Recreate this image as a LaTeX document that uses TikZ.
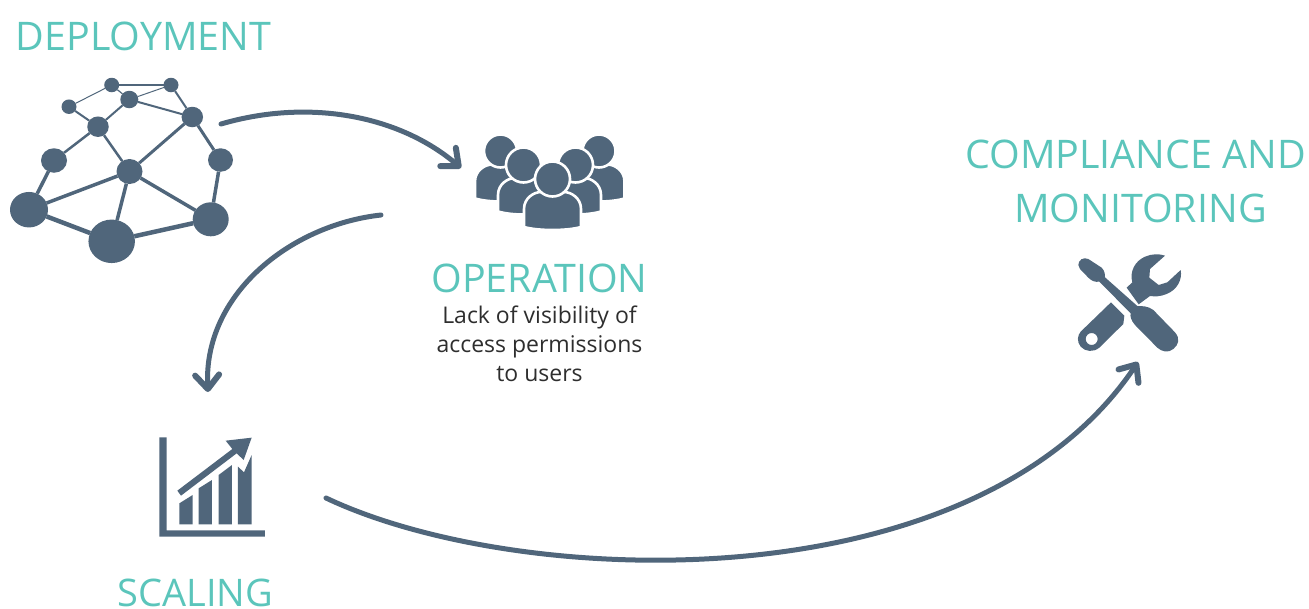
\documentclass[tikz,border=0pt]{standalone}
\usepackage{fontspec}
\setmainfont{Open Sans}
\usetikzlibrary{arrows.meta,shapes.geometric}
\definecolor{slate}{HTML}{50667B}
\definecolor{teal2}{HTML}{5BC5BB}
\definecolor{ink}{HTML}{2E2E2E}
\tikzset{
  net/.style={ellipse,fill=slate,inner sep=0pt,outer sep=0pt},
  link/.style={draw=slate,line width=#1},
  flow/.style={draw=slate,line width=5pt,line cap=round,-{Straight Barb[length=14pt,width=24pt,line width=6pt,round]}},
  title/.style={text=teal2,font=\fontsize{39.4}{44}\selectfont,anchor=base,inner sep=0pt,align=center},
  body/.style={text=ink,font=\fontsize{23}{29}\selectfont,anchor=base,inner sep=0pt,align=center},
  solid slate/.style={fill=slate,draw=none},
  person/.style={fill=slate,draw=white,line width=2.6pt}
}
\newcommand{\oneperson}[6]{% cx, head cy, head r, half width, body top, body bottom
  \path[person] (#1-#4,#6-3) -- (#1-#4,#5+17)
    .. controls (#1-#4,#5+6) and (#1-#4+10,#5) .. (#1-#4+17,#5)
    -- (#1+#4-17,#5)
    .. controls (#1+#4-10,#5) and (#1+#4,#5+6) .. (#1+#4,#5+17)
    -- (#1+#4,#6-3)
    .. controls (#1+#4-14,#6+1) and (#1-#4+14,#6+1) .. (#1-#4,#6-3) -- cycle;
  \path[person] (#1,#2) circle (#3);
}
\begin{document}
\begin{tikzpicture}[x=1pt,y=-1pt]
\useasboundingbox (0,0) rectangle (1309,608);

% titles
\node[title] (tdep) at (143.5,50) {DEPLOYMENT};
\node[title] (top) at (539.5,292) {OPERATION};
\node[title,font=\fontsize{38}{44}\selectfont] (tsc) at (195.5,606) {SCALING};
\node[title] (tcm1) at (1135.5,168) {COMPLIANCE AND};
\node[title] (tcm2) at (1140.5,222) {MONITORING};
\node[body] (l1) at (539.5,323) {Lack of visibility of};
\node[body] (l2) at (539.5,352) {access permissions};
\node[body] (l3) at (539.5,381) {to users};

% network
\node[net,minimum width=15pt,minimum height=14.5pt] (n1) at (111.7,85) {};
\node[net,minimum width=15pt,minimum height=14.5pt] (n2) at (171,85) {};
\node[net,minimum width=18pt,minimum height=17.5pt] (n3) at (129.3,99.5) {};
\node[net,minimum width=15pt,minimum height=14.5pt] (n4) at (69,106.7) {};
\node[net,minimum width=21.5pt,minimum height=20.5pt] (n5) at (192.3,117) {};
\node[net,minimum width=21.5pt,minimum height=20.5pt] (n6) at (98,126.7) {};
\node[net,minimum width=26pt,minimum height=24.5pt] (n7) at (54,160.5) {};
\node[net,minimum width=25pt,minimum height=23.5pt] (n8) at (220.5,160) {};
\node[net,minimum width=26pt,minimum height=25pt] (n9) at (129.5,171.5) {};
\node[net,minimum width=38pt,minimum height=35.5pt] (n10) at (29,209.7) {};
\node[net,minimum width=46.5pt,minimum height=43.5pt] (n11) at (111.7,241.3) {};
\node[net,minimum width=36pt,minimum height=34pt] (n12) at (210.7,219.3) {};
\draw[link=1.2pt] (n1)--(n2);
\draw[link=1pt] (n1)--(n4);
\draw[link=1.2pt] (n1)--(n3);
\draw[link=1pt] (n3)--(n2);
\draw[link=2pt] (n3)--(n5);
\draw[link=2pt] (n2)--(n5);
\draw[link=2pt] (n4)--(n6);
\draw[link=2pt] (n3)--(n6);
\draw[link=2.5pt] (n6)--(n7);
\draw[link=2.5pt] (n6)--(n9);
\draw[link=3pt] (n5)--(n9);
\draw[link=3pt] (n5)--(n8);
\draw[link=3.5pt] (n7)--(n10);
\draw[link=3.5pt] (n8)--(n12);
\draw[link=3.5pt] (n9)--(n10);
\draw[link=3.5pt] (n9)--(n11);
\draw[link=3.5pt] (n9)--(n12);
\draw[link=4.5pt] (n10)--(n11);
\draw[link=4.5pt] (n11)--(n12);

% people
\oneperson{500.5}{151}{16.5}{25.5}{164.5}{201.5}
\oneperson{599}{151}{16.5}{25.5}{164.5}{201.5}
\oneperson{523.5}{165}{17.5}{25.5}{178}{214.5}
\oneperson{575.5}{165}{17.5}{25.5}{178}{214.5}
\oneperson{552.5}{179}{17.5}{28.5}{192}{230}

% tools
\begin{scope}[shift={(1060,245)},x=0.3333pt,y=-0.3333pt]
 % screwdriver
 \path[solid slate] (55,60) .. controls (55,45) and (70,35) .. (85,42)
   -- (125,68) .. controls (135,78) and (135,90) .. (135,97)
   -- (232,183)
   .. controls (245,183) and (265,183) .. (280,195)
   -- (345,262) .. controls (362,282) and (355,300) .. (340,312)
   .. controls (325,325) and (305,320) .. (292,308)
   -- (225,240) .. controls (212,225) and (210,212) .. (212,205)
   -- (118,110) .. controls (105,112) and (95,108) .. (85,98)
   -- (60,72) -- cycle;
 % wrench handle
 \path[solid slate,even odd rule] (153,172) -- (193,212) -- (190,237) -- (118,308)
   .. controls (100,323) and (75,320) .. (62,305)
   .. controls (50,290) and (52,272) .. (62,260) -- cycle
   (95,282) circle (18);
 % wrench head
 \path[solid slate] (200,128) -- (217,112)
   .. controls (208,80) and (225,48) .. (255,35)
   .. controls (275,26) and (300,26) .. (315,32)
   -- (270,72) -- (268,98) -- (296,120) -- (322,112) -- (362,75)
   .. controls (368,105) and (350,135) .. (320,147)
   .. controls (300,155) and (285,155) .. (270,153)
   -- (236,178) -- cycle;
\end{scope}

% chart
\begin{scope}[shift={(145,425)},x=0.3333pt,y=-0.3333pt]
 \path[solid slate] (43,37) -- (65,37) -- (65,316) -- (360,316) -- (360,335) -- (43,335) -- cycle;
 \path[solid slate] (103,235) -- (143,210) -- (143,298) -- (103,298) -- cycle;
 \path[solid slate] (161,190) -- (201,165) -- (201,298) -- (161,298) -- cycle;
 \path[solid slate] (221,150) -- (261,120) -- (261,298) -- (221,298) -- cycle;
 \path[solid slate] (279,125) -- (297,142) -- (320,90) -- (320,298) -- (279,298) -- cycle;
 \path[solid slate] (97,197) -- (262,72) -- (242,47) -- (320,38) -- (296,105) -- (275,85) -- (108,212) -- cycle;
\end{scope}

% connectors
\coordinate (a1s) at (221,124);
\coordinate (a1e) at (461,168);
\coordinate (a2s) at (381,215);
\coordinate (a2e) at (208,392);
\coordinate (a3s) at (326,498);
\coordinate (a3e) at (1138,362);
\draw[flow] (a1s) .. controls (310,98) and (400,116) .. (a1e);
\draw[flow] (a2s) .. controls (290,225) and (203,295) .. (a2e);
\draw[flow] (a3s) .. controls (520,590) and (975,605) .. (a3e);
\end{tikzpicture}
\end{document}
